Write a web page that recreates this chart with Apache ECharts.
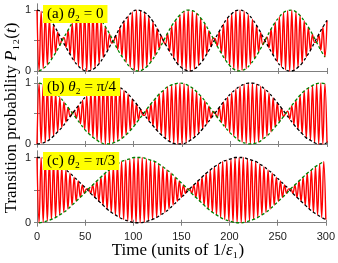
<!DOCTYPE html>
<html>
<head>
<meta charset="utf-8">
<script src="https://cdn.jsdelivr.net/npm/echarts@6/dist/echarts.min.js"></script>
<style>html,body{margin:0;padding:0;background:#fff;}#c{width:338px;height:263px;}</style>
</head>
<body>
<div id="c"></div>
<script>
// time axis
const tMax = 300;
const nSeg = 140;              // red curve: number of half-period strokes
const xTicks = [0, 50, 100, 150, 200, 250, 300];
const yTickLabels = [0, 1];
const yTicks = [0, 0.5, 1];

// black dashed envelope: values at even red samples (t = 0, 4.29, 8.57, ...)
const blackA = [1.00,0.98,0.94,0.86,0.76,0.64,0.51,0.39,0.27,0.16,0.08,0.02,0.00,0.01,0.05,0.12,0.22,0.33,0.46,0.58,0.71,0.82,0.90,0.97,1.00,0.99,0.96,0.90,0.81,0.70,0.57,0.44,0.32,0.21,0.11,0.05,0.01,0.00,0.03,0.09,0.17,0.28,0.40,0.53,0.65,0.77,0.87,0.94,0.99,1.00,0.98,0.93,0.85,0.75,0.63,0.50,0.38,0.26,0.15,0.07,0.02,0.00,0.01,0.06,0.13,0.23,0.34,0.47,0.60,0.72,0.83];
// green dashed envelope: values at odd red samples (t = 2.14, 6.43, ...)
const greenA = [0.00,0.04,0.10,0.19,0.30,0.42,0.55,0.67,0.79,0.88,0.95,0.99,1.00,0.97,0.92,0.83,0.73,0.61,0.48,0.35,0.24,0.14,0.06,0.01,0.00,0.02,0.07,0.15,0.25,0.36,0.49,0.62,0.74,0.84,0.92,0.98,1.00,0.99,0.95,0.87,0.78,0.66,0.54,0.41,0.29,0.18,0.09,0.03,0.00,0.01,0.04,0.11,0.20,0.31,0.43,0.56,0.69,0.80,0.89,0.96,0.99,1.00,0.97,0.91,0.82,0.72,0.60,0.47,0.34,0.23];

const blackB = [0.00,0.01,0.03,0.07,0.13,0.20,0.27,0.36,0.45,0.54,0.63,0.72,0.79,0.86,0.92,0.96,0.99,1.00,0.99,0.97,0.93,0.88,0.82,0.74,0.66,0.57,0.47,0.38,0.30,0.22,0.15,0.09,0.04,0.01,0.00,0.00,0.02,0.06,0.11,0.17,0.25,0.33,0.42,0.51,0.60,0.69,0.77,0.84,0.90,0.95,0.98,1.00,1.00,0.98,0.95,0.90,0.84,0.76,0.68,0.59,0.50,0.41,0.32,0.24,0.17,0.10,0.06,0.02,0.00,0.00,0.02];
const greenB = [1.00,0.98,0.95,0.90,0.84,0.77,0.69,0.60,0.51,0.42,0.33,0.24,0.17,0.11,0.06,0.02,0.00,0.00,0.02,0.05,0.09,0.15,0.22,0.30,0.39,0.48,0.57,0.66,0.74,0.82,0.88,0.94,0.97,0.99,1.00,0.99,0.96,0.92,0.86,0.79,0.71,0.62,0.53,0.44,0.35,0.27,0.19,0.13,0.07,0.03,0.01,0.00,0.01,0.03,0.08,0.13,0.20,0.28,0.36,0.45,0.54,0.63,0.72,0.80,0.87,0.92,0.96,0.99,1.00,0.99];

const blackC = [1.00,1.00,0.98,0.96,0.94,0.90,0.86,0.81,0.76,0.70,0.64,0.58,0.52,0.45,0.39,0.33,0.27,0.21,0.16,0.12,0.08,0.05,0.03,0.01,0.00,0.00,0.01,0.03,0.05,0.08,0.12,0.16,0.21,0.27,0.33,0.39,0.45,0.52,0.58,0.64,0.70,0.76,0.81,0.86,0.90,0.94,0.96,0.98,1.00,1.00,1.00,0.98,0.96,0.94,0.90,0.86,0.81,0.76,0.70,0.64,0.58,0.52,0.45,0.39,0.33,0.27,0.21,0.16,0.12,0.08,0.05];
const greenC = [0.00,0.01,0.03,0.05,0.08,0.12,0.16,0.21,0.27,0.33,0.39,0.45,0.52,0.58,0.64,0.70,0.76,0.81,0.86,0.90,0.94,0.96,0.98,1.00,1.00,1.00,0.98,0.96,0.94,0.90,0.86,0.81,0.76,0.70,0.64,0.58,0.52,0.45,0.39,0.33,0.27,0.21,0.16,0.12,0.08,0.05,0.03,0.01,0.00,0.00,0.01,0.03,0.05,0.08,0.12,0.16,0.21,0.27,0.33,0.39,0.45,0.52,0.58,0.64,0.70,0.76,0.81,0.86,0.90,0.94];

const panelLabels = ['(a) {i|θ}₂ = 0', '(b) {i|θ}₂ = π/4', '(c) {i|θ}₂ = π/3'];

const step = tMax / nSeg;
function redData(b, g) {
  const out = [];
  for (let k = 0; k <= nSeg; k++) {
    out.push([k * step, k % 2 === 0 ? b[k / 2] : g[(k - 1) / 2]]);
  }
  return out;
}
function evenData(b) { return b.map((v, j) => [2 * j * step, v]); }
function oddData(g) { return g.map((v, j) => [(2 * j + 1) * step, v]); }

const panels = [[blackA, greenA], [blackB, greenB], [blackC, greenC]];
const gridDefs = [
  {left: 37, right: 11, top: 4, height: 70},
  {left: 37, right: 11, top: 77, height: 70},
  {left: 37, right: 11, top: 151, height: 75}
];
const frame = '#7f7f7f';
const serif = '"Liberation Serif", "DejaVu Serif", serif';
const sans = '"Liberation Sans", Arial, sans-serif';

const xAxis = [], yAxis = [], series = [], title = [];
gridDefs.forEach((g, i) => {
  const common = {
    gridIndex: i, type: 'value', min: 0, max: tMax, interval: 50,
    axisLine: {show: true, lineStyle: {color: frame, width: 1}},
    axisTick: {show: true, inside: true, length: 3, customValues: xTicks, lineStyle: {color: frame}},
    splitLine: {show: false}
  };
  xAxis.push(Object.assign({}, common, {
    position: 'bottom',
    axisLabel: {show: i === 2, margin: 5, fontSize: 11, fontFamily: sans, color: '#222'}
  }));
  xAxis.push(Object.assign({}, common, {position: 'top', axisLabel: {show: false}}));
  const ycommon = {
    gridIndex: i, type: 'value', min: -0.05, max: 1.1,
    axisLine: {show: true, lineStyle: {color: frame, width: 1}},
    axisTick: {show: true, inside: true, length: 3, customValues: yTicks, lineStyle: {color: frame}},
    splitLine: {show: false}
  };
  yAxis.push(Object.assign({}, ycommon, {
    position: 'left',
    axisLabel: {show: true, customValues: yTickLabels, margin: 6, fontSize: 11, fontFamily: sans, color: '#222'}
  }));
  yAxis.push(Object.assign({}, ycommon, {position: 'right', axisLabel: {show: false}}));

  const [b, gr] = panels[i];
  series.push({
    type: 'line', xAxisIndex: 2 * i, yAxisIndex: 2 * i, data: redData(b, gr),
    symbol: 'none', smooth: 0.4, lineStyle: {color: '#ff0000', width: 1.4}, z: 2
  });
  series.push({
    type: 'line', xAxisIndex: 2 * i, yAxisIndex: 2 * i, data: evenData(b),
    symbol: 'none', smooth: true, lineStyle: {color: '#000000', width: 1.3, type: [3, 2.5]}, z: 3
  });
  series.push({
    type: 'line', xAxisIndex: 2 * i, yAxisIndex: 2 * i, data: oddData(gr),
    symbol: 'none', smooth: true, lineStyle: {color: '#008000', width: 1.3, type: [3, 2.5]}, z: 4
  });
  title.push({
    text: panelLabels[i], left: 43, top: g.top + 1,
    backgroundColor: '#ffff00', padding: [2, 4, 1, 4],
    textStyle: {fontFamily: serif, fontSize: 15, fontWeight: 'normal', color: '#000',
      rich: {i: {fontFamily: serif, fontSize: 15, fontStyle: 'italic', color: '#000'}}}
  });
});

const chart = echarts.init(document.getElementById('c'), null, {renderer: 'canvas'});
chart.setOption({
  animation: false,
  backgroundColor: '#ffffff',
  grid: gridDefs,
  xAxis, yAxis, series, title,
  graphic: [
    {
      type: 'text', x: 12, y: 118, rotation: Math.PI / 2, z: 10,
      style: {
        text: 'Transition probability {i|P}₁₂({i|t})',
        align: 'center', verticalAlign: 'middle',
        font: '17px ' + serif, fill: '#000',
        rich: {i: {fontFamily: serif, fontSize: 17, fontStyle: 'italic'}}
      }
    },
    {
      type: 'text', x: 178, y: 251, z: 10,
      style: {
        text: 'Time (units of 1/{i|ε}₁)',
        align: 'center', verticalAlign: 'middle',
        font: '17px ' + serif, fill: '#000',
        rich: {i: {fontFamily: serif, fontSize: 17, fontStyle: 'italic'}}
      }
    }
  ]
});
</script>
</body>
</html>
